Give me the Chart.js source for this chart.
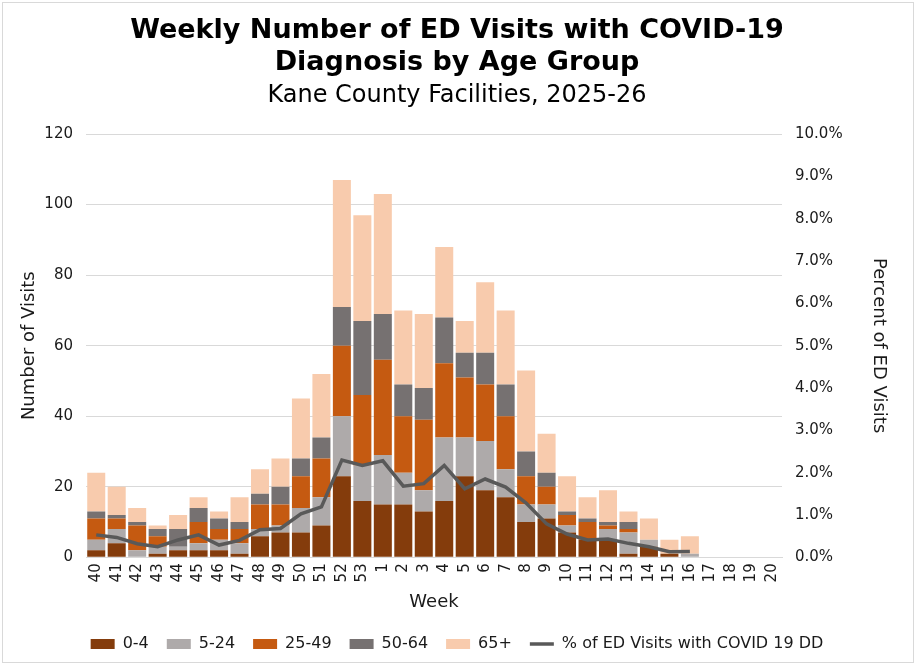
<!DOCTYPE html>
<html>
<head>
<meta charset="utf-8">
<script src="https://cdn.jsdelivr.net/npm/chart.js@4"></script>
<style>
  body { margin: 0; background: #fff; }
  #wrap { position: absolute; left: 2px; top: 2px; width: 912px; height: 661px; border: 1px solid #d9d9d9; box-sizing: border-box; }
  canvas { display: block; }
</style>
</head>
<body>
<div id="wrap"><canvas id="chart"></canvas></div>
<script>
const weeks = ['40','41','42','43','44','45','46','47','48','49','50','51','52','53',
  '1','2','3','4','5','6','7','8','9','10','11','12','13','14','15','16','17','18','19','20'];

const age0to4   = [2,4,0,1,2,2,2,1,6,7,7,9,23,16,15,15,13,16,23,19,17,10,11,7,5,5,1,3,1,0,0,0,0,0];
const age5to24  = [3,4,2,2,1,2,3,3,2,2,7,8,17,10,14,9,6,18,11,14,8,5,4,2,0,3,6,2,0,1,0,0,0,0];
const age25to49 = [6,3,7,3,0,6,3,4,7,6,9,11,20,20,27,16,20,21,17,16,15,8,5,3,5,1,1,0,0,0,0,0,0,0];
const age50to64 = [2,1,1,2,5,4,3,2,3,5,5,6,11,21,13,9,9,13,7,9,9,7,4,1,1,1,2,0,0,0,0,0,0,0];
const age65plus = [11,8,4,1,4,3,2,7,7,8,17,18,36,30,34,21,21,20,9,20,21,23,11,10,6,9,3,6,4,5,0,0,0,0];

// percent of all ED visits with COVID-19 discharge diagnosis
const pctCovid = [0.53,0.47,0.32,0.25,0.41,0.53,0.29,0.40,0.65,0.68,1.03,1.19,2.30,2.17,
  2.28,1.68,1.74,2.17,1.62,1.85,1.66,1.28,0.79,0.55,0.41,0.43,0.33,0.25,0.13,0.14,null,null,null,null];

const FONT = "'DejaVu Sans', Verdana, sans-serif";
const TXT = '#1a1a1a';

function barSet(label, data, color) {
  return {
    type: 'bar', label: label, data: data, backgroundColor: color,
    borderWidth: 0, yAxisID: 'y', stack: 'ages', pointStyle: 'rect', order: 2
  };
}

new Chart(document.getElementById('chart'), {
  data: {
    labels: weeks,
    datasets: [
      barSet('0-4', age0to4, '#843C0C'),
      barSet('5-24', age5to24, '#AEAAAA'),
      barSet('25-49', age25to49, '#C55A11'),
      barSet('50-64', age50to64, '#767171'),
      barSet('65+', age65plus, '#F8CBAD'),
      {
        type: 'line', label: '% of ED Visits with COVID 19 DD', data: pctCovid,
        borderColor: '#595959', backgroundColor: '#595959', borderWidth: 3.5,
        pointRadius: 0, pointStyle: 'line', yAxisID: 'y2', order: 1,
        spanGaps: false, tension: 0
      }
    ]
  },
  options: {
    responsive: true,
    maintainAspectRatio: false,
    animation: false,
    layout: { padding: { top: 8, left: 12, right: 14, bottom: 0 } },
    datasets: { bar: { categoryPercentage: 1, barPercentage: 0.88 } },
    plugins: {
      title: {
        display: true,
        text: ['Weekly Number of ED Visits with COVID-19', 'Diagnosis by Age Group'],
        color: '#000',
        font: { family: FONT, size: 27, weight: 'bold', lineHeight: 1.19 },
        padding: { top: 4, bottom: 0 }
      },
      subtitle: {
        display: true,
        text: 'Kane County Facilities, 2025-26',
        color: '#000',
        font: { family: FONT, size: 24, lineHeight: 1.2 },
        padding: { top: 2, bottom: 24 }
      },
      legend: {
        position: 'bottom',
        labels: {
          usePointStyle: true, pointStyleWidth: 24, boxHeight: 10,
          color: TXT, font: { family: FONT, size: 16 }, padding: 18,
          sort: (a, b) => a.datasetIndex - b.datasetIndex
        }
      },
      tooltip: { enabled: false }
    },
    scales: {
      x: {
        stacked: true,
        grid: { display: false, drawTicks: false },
        border: { color: '#d9d9d9' },
        ticks: { color: TXT, font: { family: FONT, size: 15 }, minRotation: 90, maxRotation: 90, autoSkip: false, padding: 6 },
        title: { display: true, text: 'Week', color: TXT, font: { family: FONT, size: 18 }, padding: { top: 3, bottom: 5 } }
      },
      y: {
        stacked: true,
        position: 'left',
        min: 0, max: 120,
        afterFit: s => { s.width = 71; },
        ticks: { stepSize: 20, color: TXT, font: { family: FONT, size: 15 }, padding: 13 },
        grid: { color: '#d9d9d9', drawTicks: false },
        border: { display: false },
        title: { display: true, text: 'Number of Visits', color: TXT, font: { family: FONT, size: 18 }, padding: { top: 4, bottom: 0 } }
      },
      y2: {
        position: 'right',
        min: 0, max: 10,
        afterFit: s => { s.width = 117; },
        ticks: { stepSize: 1, color: TXT, font: { family: FONT, size: 15 }, padding: 13,
          callback: v => v.toFixed(1) + '%' },
        grid: { display: false, drawTicks: false },
        border: { display: false },
        title: { display: true, text: 'Percent of ED Visits', color: TXT, font: { family: FONT, size: 18 }, padding: { top: 10, bottom: 0 } }
      }
    }
  }
});
</script>
</body>
</html>
